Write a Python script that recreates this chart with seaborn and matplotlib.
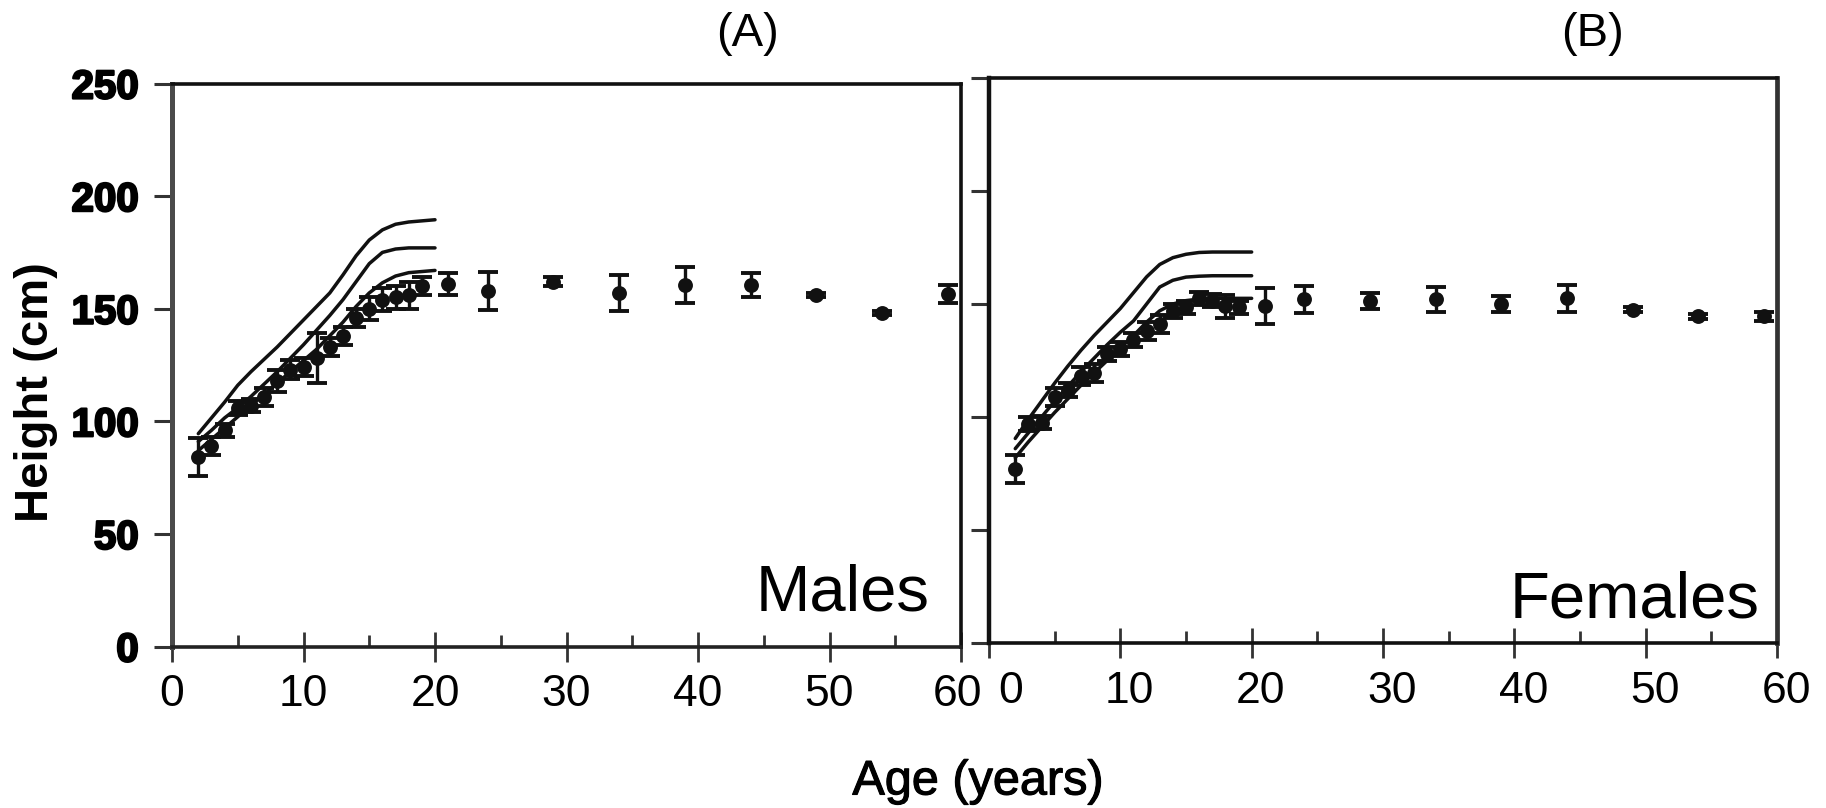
import numpy as np
import pandas as pd
import matplotlib
matplotlib.use("Agg")
import matplotlib.pyplot as plt
import matplotlib.patheffects as pe
from matplotlib.transforms import ScaledTranslation
import seaborn as sns
from matplotlib.ticker import MultipleLocator

sns.set_theme(style="white")
plt.rcParams["font.family"] = ["Liberation Sans", "DejaVu Sans"]
plt.rcParams["text.color"] = "black"
plt.rcParams["xtick.labelcolor"] = "black"
plt.rcParams["ytick.labelcolor"] = "black"

# ---------------- data ----------------
ref_age = list(range(2, 21))

male_p95 = [94.5, 101.5, 108.5, 116, 122, 127.5, 133, 139, 145, 151, 157, 165,
            173.5, 180.5, 185, 187.5, 188.5, 189, 189.5]
male_p50 = [91, 96, 101.5, 106, 111, 116.5, 122, 128, 134, 140.5, 147, 154,
            162, 170, 175, 176.5, 177, 177, 177]
male_p5 = [87, 92, 97, 102, 107, 112, 117, 122, 127, 132, 138, 144,
           151, 157, 161.5, 164.5, 166, 166.5, 167]

female_p95 = [90.5, 99, 107, 115, 122.5, 129.5, 136, 142, 148, 155, 162, 167.5,
              170.5, 172, 172.8, 173, 173, 173, 173]
female_p50 = [86, 93, 100, 107, 113.5, 120, 126, 132, 137.5, 142.5, 150, 157.5,
              160.5, 161.9, 162.3, 162.5, 162.5, 162.5, 162.5]
female_p5 = [82, 89, 95.5, 102, 108, 114, 119.5, 125, 130.5, 136, 142, 147,
             150, 151.5, 152.2, 152.5, 152.5, 152.5, 152.5]

male_age = [2, 3, 4, 5, 6, 7, 8, 9, 10, 11, 12, 13, 14, 15, 16, 17, 18, 19,
            21, 24, 29, 34, 39, 44, 49, 54, 59]
male_height = [84, 89, 96, 106, 107, 111, 118, 123, 124, 128, 133, 138, 146,
               150, 154, 155, 156, 160, 161, 158, 162, 157, 160.5, 160.5, 156, 148, 156.5]
male_err = [8.5, 4, 3, 3, 3, 4, 5, 4, 4, 11, 4, 4, 4, 5, 5, 5, 6, 4,
            5, 8.5, 2, 8, 8, 5.5, 1, 1, 4]

female_age = [2, 3, 4, 5, 6, 7, 8, 9, 10, 11, 12, 13, 14, 15, 16, 17, 18, 19,
              21, 24, 29, 34, 39, 44, 49, 54, 59]
female_height = [77, 97, 97.5, 109, 112, 118, 119.5, 128, 130, 134, 138, 141, 147,
                 148.5, 152.5, 151.5, 149, 148.5, 149, 152, 151.5, 152, 150, 152.5,
                 147.5, 144.5, 144.5]
female_err = [6, 3, 3, 4, 3, 4, 4, 3, 3, 3, 4, 4, 3, 3, 3, 3, 5, 3,
              8, 6, 3.5, 5.5, 3.5, 6, 1, 1, 2]

x_ticks = [0, 10, 20, 30, 40, 50, 60]
y_ticks = [0, 50, 100, 150, 200, 250]

# ---------------- figure ----------------
W, H = 1826, 808
fig = plt.figure(figsize=(W / 100, H / 100), dpi=100)
axA = fig.add_axes([172 / W, (H - 646.5) / H, 789 / W, 563 / H])
axB = fig.add_axes([989 / W, (H - 643) / H, 788 / W, 565 / H])

INK = "#111111"


def draw(ax, age, h, err, p5, p50, p95):
    curves = pd.DataFrame({
        "age": ref_age * 3,
        "height": p5 + p50 + p95,
        "pct": ["5th"] * len(ref_age) + ["50th"] * len(ref_age) + ["95th"] * len(ref_age),
    })
    sns.lineplot(data=curves, x="age", y="height", units="pct", estimator=None,
                 color=INK, linewidth=2.5, ax=ax, legend=False, zorder=2)
    ax.errorbar(age, h, yerr=err, fmt="none", ecolor=INK, elinewidth=2.4,
                capsize=7, capthick=2.8, zorder=3)
    sns.scatterplot(x=age, y=h, ax=ax, color=INK, s=115, edgecolor=INK,
                    linewidth=0, zorder=4, legend=False)

    ax.set_xlim(0, 60)
    ax.set_ylim(0, 250)
    ax.set_xticks(x_ticks)
    ax.set_yticks(y_ticks)
    ax.xaxis.set_minor_locator(MultipleLocator(5))
    ax.set_xlabel("")
    ax.set_ylabel("")
    ax.grid(False)
    ax.tick_params(axis="x", which="major", direction="inout", length=22, width=2,
                   color="#333333", labelsize=32, pad=9, bottom=True,
                   labelcolor="black")
    ax.tick_params(axis="x", which="minor", direction="in", length=9, width=2,
                   color="#333333", bottom=True)
    ax.tick_params(axis="y", which="major", direction="out", length=13, width=2.2,
                   color="#333333", left=True, labelcolor="black")
    for s in ax.spines.values():
        s.set_color(INK)
        s.set_linewidth(2.6)
        s.set_visible(True)


draw(axA, male_age, male_height, male_err, male_p5, male_p50, male_p95)
draw(axB, female_age, female_height, female_err, female_p5, female_p50, female_p95)

axA.spines["left"].set_color("#4a4a4a")
axA.spines["left"].set_linewidth(3.6)
axA.spines["bottom"].set_color("#222222")
axB.spines["left"].set_linewidth(3.2)
axB.spines["right"].set_color("#333333")
axB.spines["right"].set_linewidth(3.4)

# heavy y tick labels on panel A
axA.tick_params(axis="y", pad=11, labelsize=29)
for lab in axA.get_yticklabels():
    lab.set_fontweight("bold")
    lab.set_color("black")
    lab.set_path_effects([pe.withStroke(linewidth=1.6, foreground="black")])
axB.tick_params(axis="y", labelleft=False)

# panel B x tick labels sit a little to the right of their ticks
for i, lab in enumerate(axB.get_xticklabels()):
    dx = 22 if i == 0 else 9
    lab.set_transform(lab.get_transform() + ScaledTranslation(dx / 100, 0, fig.dpi_scale_trans))
for i, lab in enumerate(axA.get_xticklabels()):
    if i == len(x_ticks) - 1:
        lab.set_transform(lab.get_transform() + ScaledTranslation(-4 / 100, 0, fig.dpi_scale_trans))

axA.text(57.6, 16, "Males", ha="right", va="baseline", fontsize=47, color="black")
axB.text(58.7, 11.5, "Females", ha="right", va="baseline", fontsize=47, color="black")

fig.text(747 / W, 1 - 34 / H, "(A)", ha="center", va="center", fontsize=34, color="black")
fig.text(1593 / W, 1 - 34 / H, "(B)", ha="center", va="center", fontsize=34, color="black")
fig.text(978 / W, 1 - 782 / H, "Age (years)", ha="center", va="center", fontsize=35,
         color="black", path_effects=[pe.withStroke(linewidth=0.8, foreground="black")])
fig.text(36 / W, 1 - 392 / H, "Height (cm)", rotation=90, ha="center", va="center",
         fontsize=34, fontweight="bold", color="black")

fig.savefig("out.png", dpi=100, facecolor="white")
